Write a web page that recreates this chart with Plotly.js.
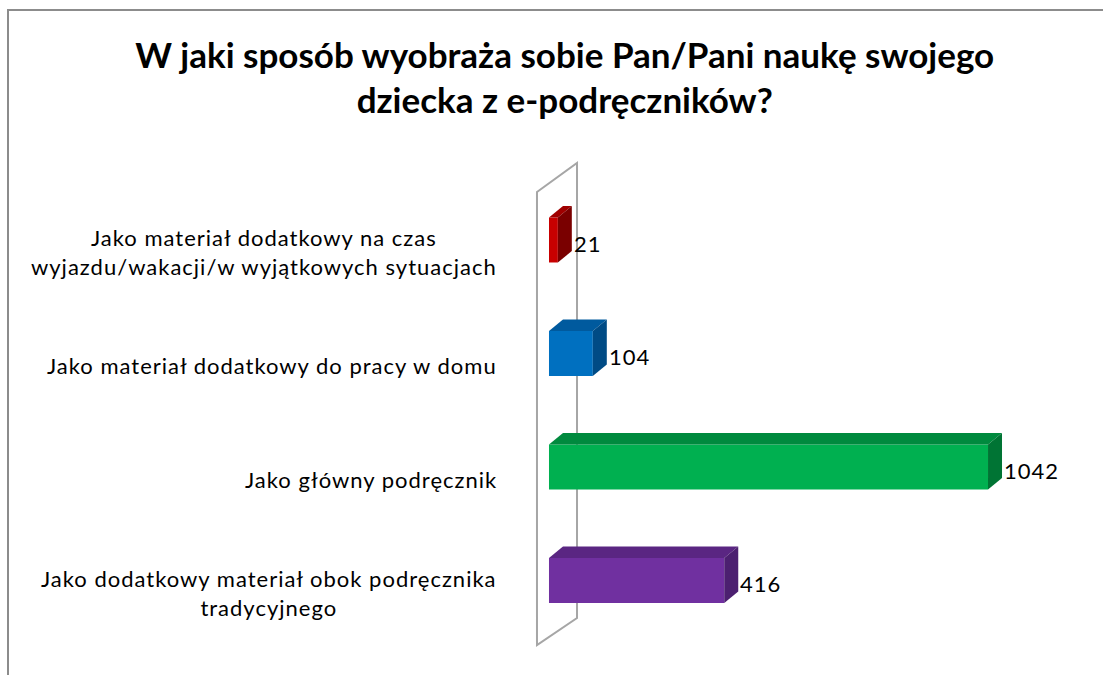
<!DOCTYPE html>
<html>
<head>
<meta charset="utf-8">
<script src="https://cdn.plot.ly/plotly-3.0.1.min.js"></script>
<style>
  html, body { margin: 0; padding: 0; background: #ffffff; }
  #frame { position: absolute; left: 7px; top: 9px; width: 1200px; height: 800px;
           border-left: 2px solid #8c8c8c; border-top: 2px solid #8c8c8c; }
  #chart { position: absolute; left: 0; top: 0; width: 1103px; height: 675px; }
  text.annotation-text { letter-spacing: 1px; }
</style>
</head>
<body>
<div id="frame"></div>
<div id="chart"></div>
<script>
const titleText = 'W jaki sposób wyobraża sobie Pan/Pani naukę swojego<br>dziecka z e-podręczników?';
const categories = [
  'Jako materiał dodatkowy na czas<br>wyjazdu/wakacji/w wyjątkowych sytuacjach',
  'Jako materiał dodatkowy do pracy w domu',
  'Jako główny podręcznik',
  'Jako dodatkowy materiał obok podręcznika<br>tradycyjnego'
];
const values = [21, 104, 1042, 416];
const frontColors = ['#C80000', '#0070C0', '#00B050', '#7030A0'];
const topColors   = ['#A00000', '#005A9E', '#008A3E', '#5A2682'];
const sideColors  = ['#7A0000', '#004B85', '#007434', '#4C2070'];

const pos = categories.map((c, i) => i);
const barW = 0.396;      // bar thickness in category units
const depthX = 33.2;     // 3-D depth, x data units
const depthY = -0.101;   // 3-D depth, category units (up)

const labelFont = { family: 'Lato, Open Sans, DejaVu Sans, sans-serif', size: 22, color: '#000000' };

const shapes = [];
// back wall of the 3-D plot
shapes.push({
  type: 'path', xref: 'x', yref: 'y', layer: 'below',
  path: 'M -28.5,-0.423 L 66.5,-0.678 L 66.5,3.330 L -28.5,3.568 Z',
  line: { color: '#A6A6A6', width: 2 }, fillcolor: 'rgba(0,0,0,0)'
});
values.forEach((v, i) => {
  const y0 = pos[i] - barW / 2, y1 = pos[i] + barW / 2;
  shapes.push({
    type: 'path', xref: 'x', yref: 'y', layer: 'above',
    path: `M 0,${y0} L ${v},${y0} L ${v + depthX},${y0 + depthY} L ${depthX},${y0 + depthY} Z`,
    fillcolor: topColors[i], line: { width: 0 }
  });
  shapes.push({
    type: 'path', xref: 'x', yref: 'y', layer: 'above',
    path: `M ${v},${y0} L ${v + depthX},${y0 + depthY} L ${v + depthX},${y1 + depthY} L ${v},${y1} Z`,
    fillcolor: sideColors[i], line: { width: 0 }
  });
});

const annotations = [];
categories.forEach((c, i) => {
  annotations.push({
    xref: 'paper', x: 0, xanchor: 'right', xshift: -21,
    yref: 'y', y: pos[i], yanchor: 'middle', yshift: -12,
    text: c, align: 'center', showarrow: false, font: labelFont
  });
});
values.forEach((v, i) => {
  annotations.push({
    xref: 'x', x: v, xanchor: 'left', xshift: 14,
    yref: 'y', y: pos[i], yanchor: 'middle', yshift: -3,
    text: String(v), showarrow: false, font: labelFont
  });
});

const data = [{
  type: 'bar', orientation: 'h',
  x: values, y: pos, width: barW, base: 0,
  marker: { color: frontColors, line: { width: 0 } },
  hoverinfo: 'none'
}];

const layout = {
  width: 1103, height: 675,
  paper_bgcolor: 'rgba(0,0,0,0)', plot_bgcolor: 'rgba(0,0,0,0)',
  margin: { l: 520, r: 23, t: 150, b: 15 },
  title: {
    text: titleText,
    font: { family: 'Lato, Open Sans, sans-serif', size: 35, color: '#000000', weight: 'bold' },
    x: 0.512, xanchor: 'center', xref: 'container',
    y: 0.90, yanchor: 'top', yref: 'container'
  },
  xaxis: { range: [-68.8, 1260.3], showgrid: false, zeroline: false, showticklabels: false, showline: false, fixedrange: true },
  yaxis: { range: [3.700, -0.793], showgrid: false, zeroline: false, showticklabels: false, showline: false, fixedrange: true },
  shapes: shapes,
  annotations: annotations,
  showlegend: false
};

Plotly.newPlot('chart', data, layout, { displayModeBar: false, staticPlot: true });
</script>
</body>
</html>
